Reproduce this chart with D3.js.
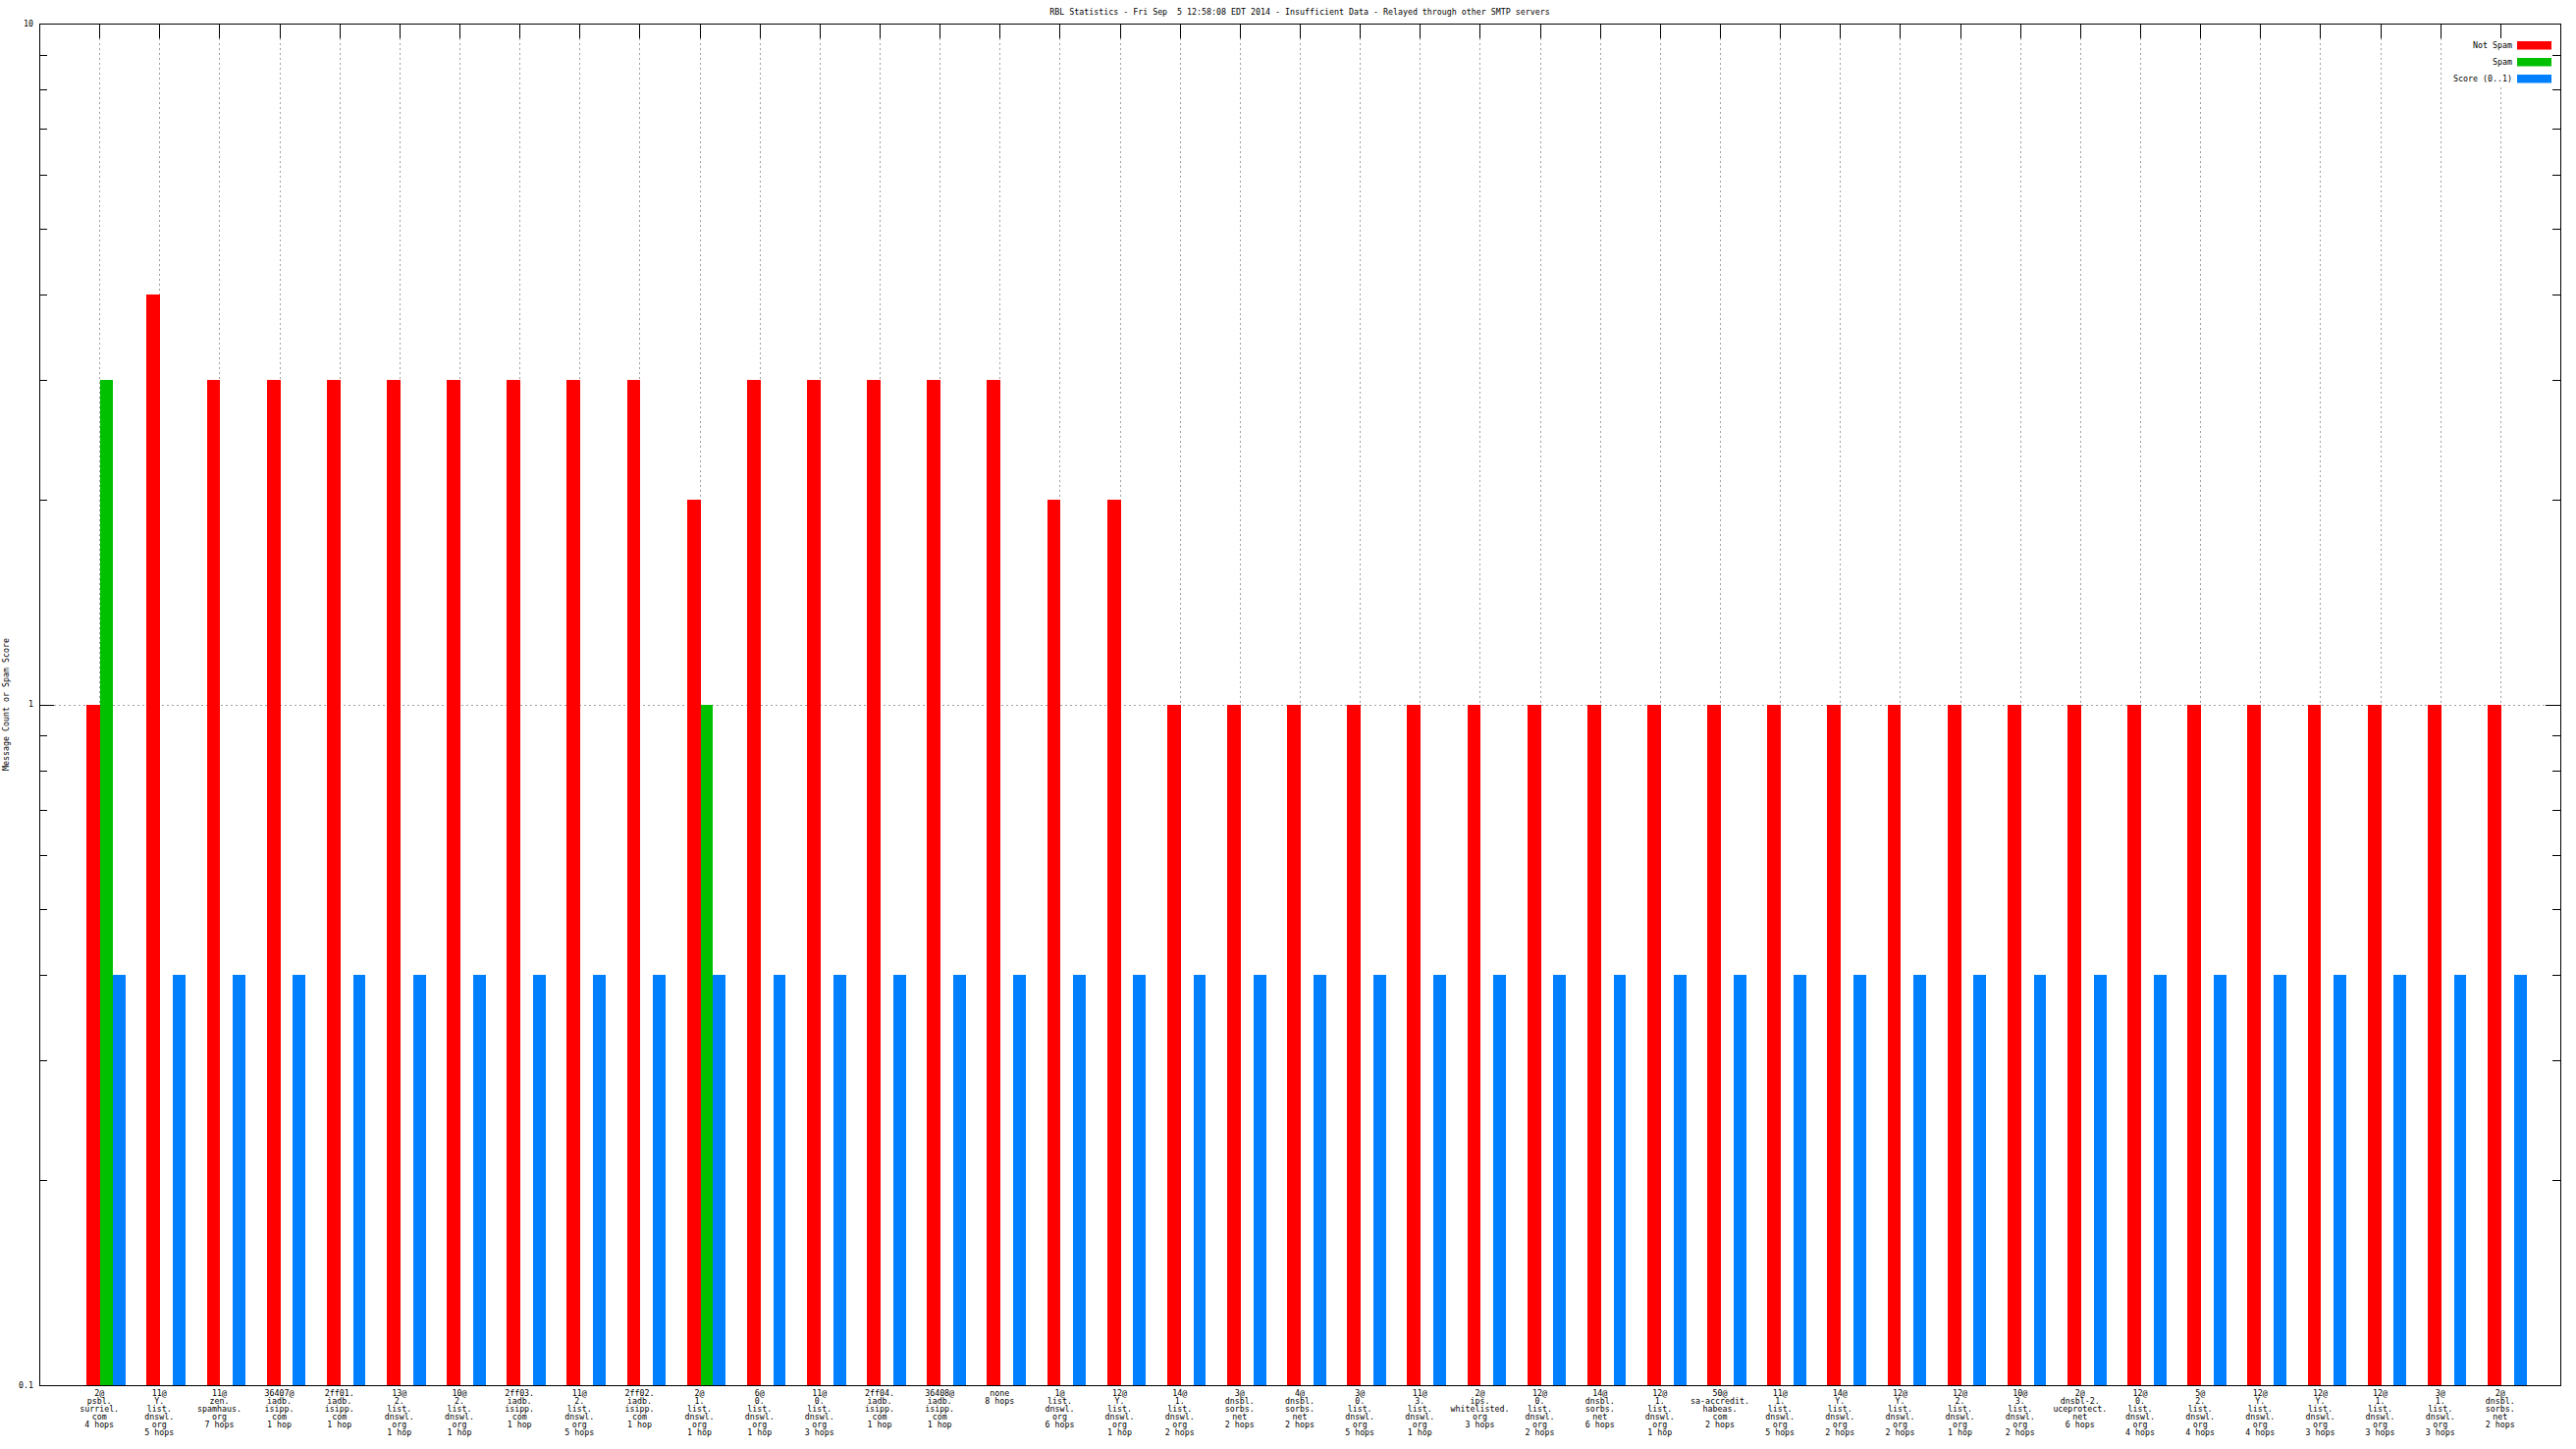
<!DOCTYPE html>
<html><head><meta charset="utf-8">
<script src="https://cdn.jsdelivr.net/npm/d3@7"></script>
<style>
html,body{margin:0;padding:0;background:#fff;}
svg{display:block;}
text{font-family:"DejaVu Sans Mono","Liberation Mono",monospace;font-size:8.3px;fill:#000;}
</style></head>
<body>
<svg id="chart" width="2624" height="1476"></svg>
<script>
const title = "RBL Statistics - Fri Sep  5 12:58:08 EDT 2014 - Insufficient Data - Relayed through other SMTP servers";
const yLabel = "Message Count or Spam Score";
const categories = [
  "2@\npsbl.\nsurriel.\ncom\n4 hops",
  "11@\nY.\nlist.\ndnswl.\norg\n5 hops",
  "11@\nzen.\nspamhaus.\norg\n7 hops",
  "36407@\niadb.\nisipp.\ncom\n1 hop",
  "2ff01.\niadb.\nisipp.\ncom\n1 hop",
  "13@\n2.\nlist.\ndnswl.\norg\n1 hop",
  "10@\n2.\nlist.\ndnswl.\norg\n1 hop",
  "2ff03.\niadb.\nisipp.\ncom\n1 hop",
  "11@\n2.\nlist.\ndnswl.\norg\n5 hops",
  "2ff02.\niadb.\nisipp.\ncom\n1 hop",
  "2@\n1.\nlist.\ndnswl.\norg\n1 hop",
  "6@\n0.\nlist.\ndnswl.\norg\n1 hop",
  "11@\n0.\nlist.\ndnswl.\norg\n3 hops",
  "2ff04.\niadb.\nisipp.\ncom\n1 hop",
  "36408@\niadb.\nisipp.\ncom\n1 hop",
  "none\n8 hops",
  "1@\nlist.\ndnswl.\norg\n6 hops",
  "12@\nY.\nlist.\ndnswl.\norg\n1 hop",
  "14@\n1.\nlist.\ndnswl.\norg\n2 hops",
  "3@\ndnsbl.\nsorbs.\nnet\n2 hops",
  "4@\ndnsbl.\nsorbs.\nnet\n2 hops",
  "3@\n0.\nlist.\ndnswl.\norg\n5 hops",
  "11@\n3.\nlist.\ndnswl.\norg\n1 hop",
  "2@\nips.\nwhitelisted.\norg\n3 hops",
  "12@\n0.\nlist.\ndnswl.\norg\n2 hops",
  "14@\ndnsbl.\nsorbs.\nnet\n6 hops",
  "12@\n1.\nlist.\ndnswl.\norg\n1 hop",
  "50@\nsa-accredit.\nhabeas.\ncom\n2 hops",
  "11@\n1.\nlist.\ndnswl.\norg\n5 hops",
  "14@\nY.\nlist.\ndnswl.\norg\n2 hops",
  "12@\nY.\nlist.\ndnswl.\norg\n2 hops",
  "12@\n2.\nlist.\ndnswl.\norg\n1 hop",
  "10@\n3.\nlist.\ndnswl.\norg\n2 hops",
  "2@\ndnsbl-2.\nuceprotect.\nnet\n6 hops",
  "12@\n0.\nlist.\ndnswl.\norg\n4 hops",
  "5@\n2.\nlist.\ndnswl.\norg\n4 hops",
  "12@\nY.\nlist.\ndnswl.\norg\n4 hops",
  "12@\nY.\nlist.\ndnswl.\norg\n3 hops",
  "12@\n1.\nlist.\ndnswl.\norg\n3 hops",
  "3@\n1.\nlist.\ndnswl.\norg\n3 hops",
  "2@\ndnsbl.\nsorbs.\nnet\n2 hops"
];
const notSpam = [1,4,3,3,3,3,3,3,3,3,2,3,3,3,3,3,2,2,1,1,1,1,1,1,1,1,1,1,1,1,1,1,1,1,1,1,1,1,1,1,1];
const spam    = [3,0,0,0,0,0,0,0,0,0,1,0,0,0,0,0,0,0,0,0,0,0,0,0,0,0,0,0,0,0,0,0,0,0,0,0,0,0,0,0,0];
const score   = [0.4,0.4,0.4,0.4,0.4,0.4,0.4,0.4,0.4,0.4,0.4,0.4,0.4,0.4,0.4,0.4,0.4,0.4,0.4,0.4,0.4,0.4,0.4,0.4,0.4,0.4,0.4,0.4,0.4,0.4,0.4,0.4,0.4,0.4,0.4,0.4,0.4,0.4,0.4,0.4,0.4];
const seriesNames = ["Not Spam","Spam","Score (0..1)"];
const seriesColors = ["#ff0000","#00c000","#0080ff"];
const yTickLabels = ["0.1","1","10"];
const yTickValues = [0.1,1,10];

const svg = d3.select("#chart");
const L = 40, R = 2608, T = 24, B = 1411;
const x = d3.scaleLinear().domain([-1, categories.length]).range([L, R]);
const y = d3.scaleLog().domain([0.1, 10]).range([B, T]);
const bw = 0.21;
const grid = "#a0a0a0";

// vertical grid lines
svg.append("g").selectAll("line").data(categories).join("line")
  .attr("x1", (d,i)=>Math.round(x(i))+0.5).attr("x2", (d,i)=>Math.round(x(i))+0.5)
  .attr("y1", T+15).attr("y2", B-15)
  .attr("stroke", grid).attr("stroke-dasharray","2,3");
// horizontal grid at major tick 1
svg.append("g").selectAll("line").data(yTickValues.filter(v=>v>0.1 && v<10)).join("line")
  .attr("x1", L+15).attr("x2", R-14)
  .attr("y1", d=>Math.round(y(d))+0.5).attr("y2", d=>Math.round(y(d))+0.5)
  .attr("stroke", grid).attr("stroke-dasharray","2,3");

// x ticks top and bottom
const xt = svg.append("g").attr("stroke","#000");
categories.forEach((c,i)=>{
  const xx = Math.round(x(i))+0.5;
  xt.append("line").attr("x1",xx).attr("x2",xx).attr("y1",T).attr("y2",T+15);
  xt.append("line").attr("x1",xx).attr("x2",xx).attr("y1",B).attr("y2",B-15);
});
// y ticks (major + minor), left and right
const minor = y.ticks();
minor.forEach(v=>{
  const isMajor = yTickValues.some(m=>Math.abs(m-v)<1e-9);
  const len = isMajor ? 15 : 8;
  const yy = Math.round(y(v))+0.5;
  xt.append("line").attr("x1",L).attr("x2",L+len).attr("y1",yy).attr("y2",yy);
  xt.append("line").attr("x1",R).attr("x2",R-len).attr("y1",yy).attr("y2",yy);
});

// bars (the tick pixel at x(i) is covered by the red/green boundary)
const series = [notSpam, spam, score];
const offsets = [-bw, 0, bw];
const px = v => Math.round(v) + 1;
const bars = svg.append("g");
series.forEach((vals, s)=>{
  bars.selectAll(null).data(vals.map((v,i)=>({v,i})).filter(d=>d.v>0)).join("rect")
    .attr("x", d=>px(x(d.i+offsets[s])) - (s===0 ? 1 : 0))
    .attr("width", d=>px(x(d.i+offsets[s]+bw)) - px(x(d.i+offsets[s])) + (s===0 ? 1 : 0))
    .attr("y", d=>Math.round(y(d.v)))
    .attr("height", d=>B - Math.round(y(d.v)))
    .attr("fill", seriesColors[s]);
});

// legend
svg.append("rect").attr("x",2492).attr("y",39).attr("width",108).attr("height",50).attr("fill","#fff");
const lg = svg.append("g");
seriesNames.forEach((n,k)=>{
  const cy = 46.5 + k*16.8;
  lg.append("text").attr("x",2559).attr("y",cy).attr("dy","0.35em").attr("text-anchor","end").text(n);
  lg.append("rect").attr("x",2564).attr("y",Math.round(cy-4.2)).attr("width",35).attr("height",8.5).attr("fill",seriesColors[k]);
});

// border
svg.append("rect").attr("x",L+0.5).attr("y",T+0.5).attr("width",R-L).attr("height",B-T)
  .attr("fill","none").attr("stroke","#000");

// y tick labels
svg.append("g").selectAll("text").data(yTickValues).join("text")
  .attr("x",34).attr("y",d=>y(d)).attr("dy","0.35em").attr("text-anchor","end")
  .text((d,i)=>yTickLabels[i]);

// x labels
const xl = svg.append("g");
categories.forEach((c,i)=>{
  const t = xl.append("text").attr("text-anchor","middle");
  c.split("\n").forEach((line,k)=>{
    t.append("tspan").attr("x", x(i)).attr("y", 1419.3 + k*8).attr("dy","0.35em").text(line);
  });
});

// title
svg.append("text").attr("x",(L+R)/2).attr("y",12.3).attr("dy","0.35em").attr("text-anchor","middle")
  .style("white-space","pre").attr("xml:space","preserve").text(title);

// y axis label
svg.append("text").attr("transform","translate(6.3,717.5) rotate(-90)").attr("dy","0.35em")
  .attr("text-anchor","middle").text(yLabel);
</script>
</body></html>
